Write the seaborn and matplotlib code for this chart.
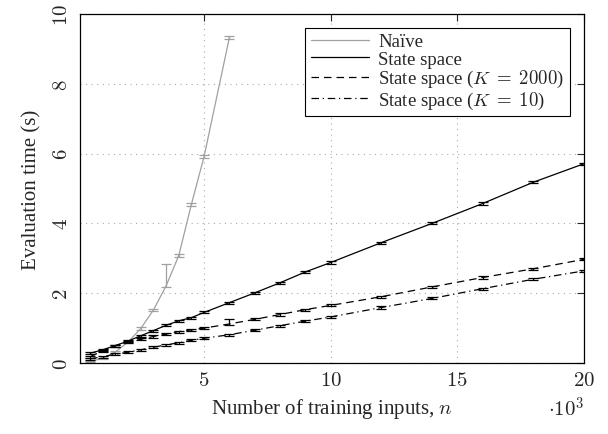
import matplotlib
matplotlib.use("Agg")
import matplotlib.pyplot as plt
import seaborn as sns
import pandas as pd

# n in thousands
naive_n = [0.5, 1, 1.5, 2, 2.5, 3, 3.5, 4, 4.5, 5, 6]
naive_t = [0.05, 0.13, 0.32, 0.6, 0.99, 1.52, 2.21, 3.08, 4.55, 5.92, 9.33]
naive_lo = [0.02, 0.02, 0.03, 0.03, 0.04, 0.04, 0.02, 0.04, 0.04, 0.04, 0.05]
naive_hi = [0.02, 0.02, 0.03, 0.03, 0.04, 0.04, 0.62, 0.04, 0.04, 0.04, 0.05]

ss_n = [0.5, 1, 1.5, 2, 2.5, 3, 3.5, 4, 4.5, 5, 6, 7, 8, 9, 10, 12, 14, 16, 18, 20]
ss_t = [0.28, 0.38, 0.5, 0.63, 0.78, 0.93, 1.08, 1.21, 1.3, 1.45, 1.73, 2.01, 2.3,
        2.61, 2.88, 3.45, 4.0, 4.57, 5.18, 5.71]
k2000_t = [0.18, 0.35, 0.5, 0.6, 0.68, 0.76, 0.83, 0.9, 0.95, 1.0, 1.12, 1.25, 1.39,
           1.53, 1.65, 1.9, 2.18, 2.45, 2.7, 2.97]
k2000_hi = [0.03] * 10 + [0.14] + [0.03] * 9
k10_t = [0.12, 0.18, 0.25, 0.31, 0.38, 0.45, 0.52, 0.58, 0.65, 0.71, 0.81, 0.94, 1.07,
         1.2, 1.32, 1.59, 1.85, 2.13, 2.4, 2.64]
err = [0.03] * 20

sns.set_style("white")
plt.rcParams["font.family"] = ["Liberation Serif", "DejaVu Serif"]
plt.rcParams["mathtext.fontset"] = "cm"

fig, ax = plt.subplots(figsize=(6.08, 4.35), dpi=100)
fig.subplots_adjust(left=0.1316, right=0.9605, top=0.9655, bottom=0.1632)

series = [
    ("Naïve", naive_n, naive_t, [naive_lo, naive_hi], "#a0a0a0", "-"),
    ("State space", ss_n, ss_t, [err, err], "black", "-"),
    ("State space ($K\\;=\\;2000$)", ss_n, k2000_t, [err, k2000_hi], "black", (0, (6, 4))),
    ("State space ($K\\;=\\;10$)", ss_n, k10_t, [err, err], "black", (0, (6, 3, 1, 3))),
]

for label, xs, ys, yerr, color, ls in series:
    df = pd.DataFrame({"n": xs, "t": ys})
    sns.lineplot(data=df, x="n", y="t", ax=ax, color=color, linestyle=ls,
                 linewidth=0.9, label=label)
    ax.errorbar(xs, ys, yerr=yerr, fmt="none", ecolor=color, elinewidth=0.9,
                capsize=3.5, capthick=0.9)

ax.set_xlim(0.1, 20)
ax.set_ylim(0, 10)
ax.set_xticks([5, 10, 15, 20])
ax.set_xticklabels([f"${v}$" for v in [5, 10, 15, 20]], fontsize=15)
ax.set_yticks([0, 2, 4, 6, 8, 10])
ax.set_yticklabels([f"${v}$" for v in [0, 2, 4, 6, 8, 10]], fontsize=15, rotation=90,
                   va="center")
ax.tick_params(direction="in", length=5, width=0.8, top=True, right=True, pad=6)
ax.grid(True, linestyle=(0, (1, 4)), color="#aaaaaa", linewidth=0.8)
for s in ax.spines.values():
    s.set_linewidth(0.9)
    s.set_color("black")

ax.set_xlabel("Number of training inputs, $n$", fontsize=15, labelpad=4)
ax.set_ylabel("Evaluation time (s)", fontsize=15, labelpad=8)
ax.text(1.0, -0.095, "$\\cdot10^3$", transform=ax.transAxes, ha="right", va="top",
        fontsize=15)

leg = ax.legend(loc="upper right", fontsize=13.5, frameon=True, fancybox=False,
                edgecolor="black", framealpha=1, handlelength=3.1,
                borderpad=0.3, labelspacing=0.02, handletextpad=0.5,
                bbox_to_anchor=(0.99, 0.988))
leg.get_frame().set_linewidth(0.8)

fig.savefig("out.png", dpi=100)
